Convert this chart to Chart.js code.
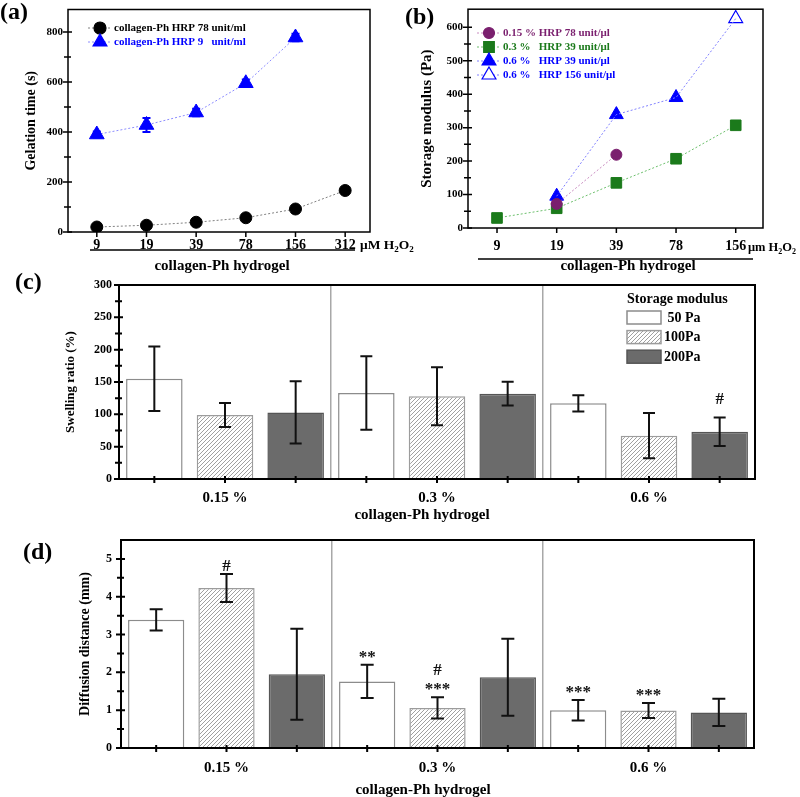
<!DOCTYPE html>
<html>
<head>
<meta charset="utf-8">
<script src="https://cdn.jsdelivr.net/npm/chart.js@4/dist/chart.umd.min.js"></script>
<style>
  html, body { margin: 0; padding: 0; background: #fff; }
  #wrap { position: relative; width: 800px; height: 797px; overflow: hidden; }
  canvas { position: absolute; }
</style>
</head>
<body>
<div id="wrap">
  <canvas id="ca" width="420" height="280" style="left:0;top:0"></canvas>
  <canvas id="cb" width="400" height="280" style="left:400px;top:0"></canvas>
  <canvas id="cc" width="800" height="260" style="left:0;top:270px"></canvas>
  <canvas id="cd" width="800" height="267" style="left:0;top:530px"></canvas>
</div>
<script>
const SERIF = '"Liberation Serif", "Times New Roman", serif'

// (a) gelation time
const h2o2A = ["9", "19", "39", "78", "156", "312"]
const gelHrp78 = [20, 27, 39, 57, 92, 166]
const gelHrp9 = [390, 428, 478, 595, 778]
const gelHrp9Err = [12, 28, 15, 15, 15]
const gelTicks = [0, 200, 400, 600, 800]
const gelMinor = [100, 300, 500, 700]
const gelLegend = ["collagen-Ph HRP 78 unit/ml", "collagen-Ph HRP 9   unit/ml"]

// (b) storage modulus
const h2o2B = ["9", "19", "39", "78", "156"]
const mod015Hrp78 = [null, 72, 219, null, null]
const mod03Hrp39 = [30, 59, 135, 207, 307]
const mod06Hrp39 = [null, 95, 339, 390, null]
const mod06Hrp156 = [null, null, null, null, 626]
const modTicks = [0, 100, 200, 300, 400, 500, 600]
const modMinor = [50, 150, 250, 350, 450, 550]
const modLegend = ["0.15 % HRP 78 unit/\u03bcl", "0.3 %   HRP 39 unit/\u03bcl", "0.6 %   HRP 39 unit/\u03bcl", "0.6 %   HRP 156 unit/\u03bcl"]

// (c) swelling ratio and (d) diffusion distance
const groups = ["0.15 %", "0.3 %", "0.6 %"]
const moduli = [" 50 Pa", "100Pa", "200Pa"]
const swell50 = [155, 133, 117]
const swell100 = [99, 128, 67]
const swell200 = [103, 132, 73]
const swellErr50 = [50, 57, 12.5]
const swellErr100 = [18.5, 45, 35]
const swellErr200 = [48, 18.5, 22]
const swellTicks = [0, 50, 100, 150, 200, 250, 300]
const swellMinor = [25, 75, 125, 175, 225, 275]
const swellMarks = [{ group: 2, series: 2, text: ["#"] }]

const diff50 = [3.39, 1.76, 1.0]
const diff100 = [4.23, 1.06, 0.99]
const diff200 = [1.95, 1.87, 0.94]
const diffErr50 = [0.28, 0.44, 0.27]
const diffErr100 = [0.37, 0.28, 0.2]
const diffErr200 = [1.2, 1.02, 0.36]
const diffTicks = [0, 1, 2, 3, 4, 5]
const diffMinor = [0.5, 1.5, 2.5, 3.5, 4.5]
const diffMarks = [
  { group: 0, series: 1, text: ["#"] },
  { group: 1, series: 0, text: ["**"] },
  { group: 1, series: 1, text: ["***", "#"] },
  { group: 2, series: 0, text: ["***"] },
  { group: 2, series: 1, text: ["***"] }
]

const unitA = [["\u03bcM H"], ["2", true], ["O"], ["2", true]]
const unitB = [["\u03bcm H"], ["2", true], ["O"], ["2", true]]

Chart.defaults.font.family = SERIF
Chart.defaults.font.weight = "bold"
Chart.defaults.color = "#000"

function pts(arr) {
  return arr.map((v, i) => (v === null ? null : { x: i, y: v })).filter(Boolean)
}

function fixScale(size) {
  return s => {
    if (s.isHorizontal()) s.height = size
    else s.width = size
    s.paddingTop = 0
    s.paddingBottom = 0
    s.paddingLeft = 0
    s.paddingRight = 0
  }
}

function setTicks(values) {
  return s => { s.ticks = values.map(v => ({ value: v })) }
}

function marker(ctx, shape, x, y, r, fill, stroke) {
  ctx.beginPath()
  if (shape === "circle") {
    ctx.arc(x, y, r, 0, Math.PI * 2)
  } else if (shape === "rect") {
    const s = Math.SQRT1_2 * r
    ctx.rect(x - s, y - s, 2 * s, 2 * s)
  } else {
    for (let k = 0; k < 3; k++) {
      const a = k * 2 * Math.PI / 3
      const px = x + Math.sin(a) * r
      const py = y - Math.cos(a) * r
      if (k === 0) ctx.moveTo(px, py)
      else ctx.lineTo(px, py)
    }
    ctx.closePath()
  }
  ctx.fillStyle = fill
  ctx.fill()
  ctx.strokeStyle = stroke
  ctx.lineWidth = 1.2
  ctx.stroke()
}

function drawUnit(ctx, parts, x, y, size) {
  ctx.textAlign = "left"
  ctx.textBaseline = "alphabetic"
  parts.forEach(([t, sub]) => {
    ctx.font = `bold ${sub ? Math.round(size * 0.65) : size}px ${SERIF}`
    ctx.fillText(t, x, y + (sub ? 3 : 0))
    x += ctx.measureText(t).width
  })
}

function drawTagAndTitle(ctx, o) {
  ctx.fillStyle = "#000"
  ctx.textAlign = "left"
  ctx.textBaseline = "middle"
  ctx.font = `bold 24px ${SERIF}`
  ctx.fillText(o.tag, o.tagX, o.tagY)
  ctx.textAlign = "center"
  ctx.font = `bold 15px ${SERIF}`
  ctx.fillText("collagen-Ph hydrogel", o.titleX, o.titleY)
}

function yTickMarks(ctx, a, y, major, minor) {
  ctx.beginPath()
  major.forEach(v => {
    const p = y.getPixelForValue(v)
    ctx.moveTo(a.left - 5, p)
    ctx.lineTo(a.left + 4, p)
  })
  minor.forEach(v => {
    const p = y.getPixelForValue(v)
    ctx.moveTo(a.left - 4, p)
    ctx.lineTo(a.left + 3, p)
  })
  ctx.stroke()
}

function lineDecor(o) {
  return {
    id: "lineDecor",
    afterDatasetsDraw(chart) {
      if (!o.err) return
      const { ctx } = chart
      const x = chart.scales.x, y = chart.scales.y
      const ds = chart.data.datasets[o.err.dataset]
      ctx.save()
      ctx.strokeStyle = o.err.color
      ctx.lineWidth = 2
      ds.data.forEach((p, i) => {
        const e = o.err.values[i]
        const px = x.getPixelForValue(p.x)
        const t = y.getPixelForValue(p.y + e), b = y.getPixelForValue(p.y - e)
        ctx.beginPath()
        ctx.moveTo(px, t); ctx.lineTo(px, b)
        ctx.moveTo(px - 4, t); ctx.lineTo(px + 4, t)
        ctx.moveTo(px - 4, b); ctx.lineTo(px + 4, b)
        ctx.stroke()
      })
      ctx.restore()
    },
    afterDraw(chart) {
      const { ctx, chartArea: a } = chart
      const x = chart.scales.x, y = chart.scales.y
      ctx.save()
      ctx.strokeStyle = "#000"
      ctx.lineWidth = 1.5
      ctx.strokeRect(a.left, a.top, a.right - a.left, a.bottom - a.top)
      yTickMarks(ctx, a, y, o.yMajor, o.yMinor)
      ctx.beginPath()
      o.xLabels.forEach((_, i) => {
        const p = x.getPixelForValue(i)
        ctx.moveTo(p, a.bottom)
        ctx.lineTo(p, a.bottom + 5)
      })
      ctx.stroke()

      // underline below the H2O2 ticks
      ctx.beginPath()
      ctx.moveTo(o.rule[0], o.rule[2])
      ctx.lineTo(o.rule[1], o.rule[2])
      ctx.stroke()
      ctx.fillStyle = "#000"
      drawUnit(ctx, o.unit, o.unitX, o.unitY, o.unitSize)
      drawTagAndTitle(ctx, o)

      // legend
      o.legend.forEach((it, k) => {
        const ly = o.legY + k * o.legStep
        ctx.save()
        ctx.strokeStyle = it.line
        ctx.lineWidth = 1
        ctx.setLineDash([2, 2])
        ctx.beginPath()
        ctx.moveTo(o.legX, ly)
        ctx.lineTo(o.legX + 24, ly)
        ctx.stroke()
        ctx.restore()
        marker(ctx, it.shape, o.legX + 12, ly, it.r, it.fill, it.color)
        ctx.fillStyle = it.color
        ctx.textAlign = "left"
        ctx.textBaseline = "middle"
        ctx.font = `bold 11px ${SERIF}`
        ctx.fillText(it.text, o.legX + 26, ly)
      })
      ctx.restore()
    }
  }
}

function barDecor(o) {
  return {
    id: "barDecor",
    afterDatasetsDraw(chart) {
      const { ctx } = chart
      const y = chart.scales.y
      ctx.save()
      ctx.strokeStyle = "#111"
      ctx.lineWidth = 2
      o.errs.forEach((errs, d) => {
        const vals = chart.data.datasets[d].data
        chart.getDatasetMeta(d).data.forEach((bar, i) => {
          const t = y.getPixelForValue(vals[i] + errs[i])
          const b = y.getPixelForValue(vals[i] - errs[i])
          ctx.beginPath()
          ctx.moveTo(bar.x, t); ctx.lineTo(bar.x, b)
          ctx.moveTo(bar.x - o.cap, t); ctx.lineTo(bar.x + o.cap, t)
          ctx.moveTo(bar.x - o.cap, b); ctx.lineTo(bar.x + o.cap, b)
          ctx.stroke()
        })
      })

      // significance marks
      ctx.fillStyle = "#111"
      ctx.textAlign = "center"
      ctx.textBaseline = "alphabetic"
      ctx.font = `bold 17px ${SERIF}`
      o.marks.forEach(m => {
        const bar = chart.getDatasetMeta(m.series).data[m.group]
        const v = chart.data.datasets[m.series].data[m.group] + o.errs[m.series][m.group]
        let base = y.getPixelForValue(v) - o.markGap
        m.text.forEach(t => {
          ctx.fillText(t, bar.x, base)
          base -= 19
        })
      })
      ctx.restore()
    },
    afterDraw(chart) {
      const { ctx, chartArea: a } = chart
      const y = chart.scales.y
      ctx.save()
      ctx.strokeStyle = "#000"
      ctx.lineWidth = 2
      ctx.strokeRect(a.left, a.top, a.right - a.left, a.bottom - a.top)
      yTickMarks(ctx, a, y, o.yMajor, o.yMinor)
      ctx.beginPath()
      chart.data.datasets.forEach((_, d) => {
        chart.getDatasetMeta(d).data.forEach(bar => {
          ctx.moveTo(bar.x, a.bottom - 3)
          ctx.lineTo(bar.x, a.bottom + 4)
        })
      })
      ctx.stroke()
      drawTagAndTitle(ctx, o)

      if (o.legend) {
        const lx = a.right - 128
        ctx.fillStyle = "#000"
        ctx.textAlign = "left"
        ctx.textBaseline = "middle"
        ctx.font = `bold 14px ${SERIF}`
        ctx.fillText("Storage modulus", lx, a.top + 14)
        chart.data.datasets.forEach((ds, k) => {
          const by = a.top + 26 + k * 19.6
          ctx.fillStyle = ds.backgroundColor
          ctx.fillRect(lx, by, 34, 13)
          ctx.strokeStyle = ds.borderColor
          ctx.lineWidth = 1.5
          ctx.strokeRect(lx, by, 34, 13)
          ctx.fillStyle = "#000"
          ctx.fillText(ds.label, lx + 37, by + 7)
        })
      }
      ctx.restore()
    }
  }
}

function makeHatch(ctx) {
  const c = document.createElement("canvas")
  c.width = 4
  c.height = 4
  const g = c.getContext("2d")
  g.fillStyle = "#fff"
  g.fillRect(0, 0, 4, 4)
  g.strokeStyle = "#a0a0a0"
  g.lineWidth = 1
  g.beginPath()
  g.moveTo(0, 4); g.lineTo(4, 0)
  g.moveTo(-1, 1); g.lineTo(1, -1)
  g.moveTo(3, 5); g.lineTo(5, 3)
  g.stroke()
  return ctx.createPattern(c, "repeat")
}

function lineScales(o) {
  return {
    x: {
      type: "linear", min: o.xMin, max: o.xMax,
      afterBuildTicks: setTicks(o.xLabels.map((_, i) => i)),
      afterFit: fixScale(o.xHeight),
      grid: { display: false, drawTicks: false },
      border: { display: false },
      ticks: { callback: (v, i) => o.xLabels[i], font: { size: 14 }, padding: o.xPad, maxRotation: 0, autoSkip: false }
    },
    y: {
      min: 0, max: o.yMax,
      afterBuildTicks: setTicks(o.yMajor),
      afterFit: fixScale(o.yWidth),
      grid: { display: false, drawTicks: false },
      border: { display: false },
      ticks: { font: { size: 11 }, padding: 5 },
      title: { display: true, text: o.yTitle, font: { size: o.yTitleSize }, padding: { top: o.yTitlePad, bottom: 0 } }
    }
  }
}

function barScales(o) {
  return {
    x: {
      afterFit: fixScale(o.xHeight),
      grid: { display: true, offset: true, color: "#a8a8a8", lineWidth: 1.5, drawTicks: false },
      border: { display: false },
      ticks: { font: { size: 15 }, padding: o.xPad, maxRotation: 0 }
    },
    y: {
      min: 0, max: o.yMax,
      afterBuildTicks: setTicks(o.yMajor),
      afterFit: fixScale(o.yWidth),
      grid: { display: false, drawTicks: false },
      border: { display: false },
      ticks: { font: { size: 12 }, padding: o.yPad },
      title: { display: true, text: o.yTitle, font: { size: o.yTitleSize }, padding: { top: o.yTitlePad, bottom: 0 } }
    }
  }
}

function dotted(color) {
  return { showLine: true, borderColor: color, borderWidth: 1, borderDash: [2, 2] }
}

function buildGelation() {
  const o = {
    xLabels: h2o2A, xMin: -0.58, xMax: 5.5, xHeight: 48, xPad: 5,
    yMax: 890, yMajor: gelTicks, yMinor: gelMinor, yWidth: 68,
    yTitle: "Gelation time (s)", yTitleSize: 14, yTitlePad: 23,
    rule: [90, 355, 250], unit: unitA, unitX: 360, unitY: 249, unitSize: 13.5,
    tag: "(a)", tagX: 0, tagY: 13, titleX: 222, titleY: 266,
    legX: 88, legY: 28, legStep: 14,
    legend: [
      { text: gelLegend[0], color: "#000", fill: "#000", line: "#808080", shape: "circle", r: 6 },
      { text: gelLegend[1], color: "#0000ff", fill: "#0000ff", line: "#8c8cff", shape: "triangle", r: 8 }
    ],
    err: { dataset: 1, values: gelHrp9Err, color: "#0000ff" }
  }
  new Chart(document.getElementById("ca"), {
    type: "scatter",
    data: {
      datasets: [
        { data: pts(gelHrp78), ...dotted("#808080"), pointStyle: "circle", pointRadius: 6, pointBackgroundColor: "#000", pointBorderColor: "#000" },
        { data: pts(gelHrp9), ...dotted("#8c8cff"), pointStyle: "triangle", pointRadius: 8.5, pointBackgroundColor: "#0000ff", pointBorderColor: "#0000ff" }
      ]
    },
    options: {
      responsive: false,
      animation: false,
      layout: { padding: { top: 5, right: 50, bottom: 0, left: 0 } },
      plugins: { legend: { display: false }, tooltip: { enabled: false } },
      scales: lineScales(o)
    },
    plugins: [lineDecor(o)]
  })
}

function buildModulus() {
  const o = {
    xLabels: h2o2B, xMin: -0.486, xMax: 4.457, xHeight: 52, xPad: 10,
    yMax: 654, yMajor: modTicks, yMinor: modMinor, yWidth: 68,
    yTitle: "Storage modulus (Pa)", yTitleSize: 15, yTitlePad: 18,
    rule: [78, 353, 259], unit: unitB, unitX: 348, unitY: 251, unitSize: 12.5,
    tag: "(b)", tagX: 5, tagY: 18, titleX: 228, titleY: 266,
    legX: 77, legY: 33, legStep: 14,
    legend: [
      { text: modLegend[0], color: "#7a1f6e", fill: "#7a1f6e", line: "#c98cc0", shape: "circle", r: 5.5 },
      { text: modLegend[1], color: "#1b7a1b", fill: "#1b7a1b", line: "#6cbf6c", shape: "rect", r: 7.5 },
      { text: modLegend[2], color: "#0000ff", fill: "#0000ff", line: "#8080ff", shape: "triangle", r: 8 },
      { text: modLegend[3], color: "#0000ff", fill: "#fff", line: "#8080ff", shape: "triangle", r: 8 }
    ]
  }
  const blueLine = mod06Hrp39.map((v, i) => (v === null ? mod06Hrp156[i] : v))
  new Chart(document.getElementById("cb"), {
    type: "scatter",
    data: {
      datasets: [
        { data: pts(mod015Hrp78), ...dotted("#c98cc0"), pointStyle: "circle", pointRadius: 5.5, pointBackgroundColor: "#7a1f6e", pointBorderColor: "#7a1f6e" },
        { data: pts(mod03Hrp39), ...dotted("#6cbf6c"), pointStyle: "rect", pointRadius: 7.5, pointBackgroundColor: "#1b7a1b", pointBorderColor: "#1b7a1b" },
        { data: pts(blueLine), ...dotted("#8080ff"), pointRadius: 0 },
        { data: pts(mod06Hrp39), showLine: false, pointStyle: "triangle", pointRadius: 8, pointBackgroundColor: "#0000ff", pointBorderColor: "#0000ff" },
        { data: pts(mod06Hrp156), showLine: false, pointStyle: "triangle", pointRadius: 8, pointBackgroundColor: "#fff", pointBorderColor: "#0000ff", pointBorderWidth: 1.2 }
      ]
    },
    options: {
      responsive: false,
      animation: false,
      layout: { padding: { top: 7, right: 37, bottom: 0, left: 0 } },
      plugins: { legend: { display: false }, tooltip: { enabled: false } },
      scales: lineScales(o)
    },
    plugins: [lineDecor(o)]
  })
}

function barDatasets(ctx, v50, v100, v200) {
  return [
    { label: moduli[0], data: v50, backgroundColor: "#fff", borderColor: "#8c8c8c", borderWidth: 1.5 },
    { label: moduli[1], data: v100, backgroundColor: makeHatch(ctx), borderColor: "#9c9c9c", borderWidth: 1.5 },
    { label: moduli[2], data: v200, backgroundColor: "#6b6b6b", borderColor: "#555", borderWidth: 1.5 }
  ]
}

function buildBars(id, o, sets) {
  const canvas = document.getElementById(id)
  new Chart(canvas, {
    type: "bar",
    data: { labels: groups, datasets: barDatasets(canvas.getContext("2d"), ...sets) },
    options: {
      responsive: false,
      animation: false,
      categoryPercentage: 1,
      barPercentage: 0.8,
      layout: { padding: o.padding },
      plugins: { legend: { display: false }, tooltip: { enabled: false } },
      scales: barScales(o)
    },
    plugins: [barDecor(o)]
  })
}

window.addEventListener("load", () => {
  buildGelation()
  buildModulus()
  buildBars("cc", {
    padding: { top: 15, right: 45, bottom: 0, left: 0 },
    xHeight: 51, xPad: 10, yMax: 300, yMajor: swellTicks, yMinor: swellMinor,
    yWidth: 119, yPad: 7, yTitle: "Swelling ratio (%)", yTitleSize: 13, yTitlePad: 63,
    errs: [swellErr50, swellErr100, swellErr200], cap: 6, marks: swellMarks, markGap: 14,
    tag: "(c)", tagX: 15, tagY: 13, titleX: 422, titleY: 245, legend: true
  }, [swell50, swell100, swell200])
  buildBars("cd", {
    padding: { top: 10, right: 46, bottom: 0, left: 0 },
    xHeight: 49, xPad: 11.5, yMax: 5.5, yMajor: diffTicks, yMinor: diffMinor,
    yWidth: 121, yPad: 9, yTitle: "Diffusion distance (mm)", yTitleSize: 14, yTitlePad: 77,
    errs: [diffErr50, diffErr100, diffErr200], cap: 6.5, marks: diffMarks, markGap: 3,
    tag: "(d)", tagX: 23, tagY: 23, titleX: 423, titleY: 260, legend: false
  }, [diff50, diff100, diff200])
})
</script>
</body>
</html>
